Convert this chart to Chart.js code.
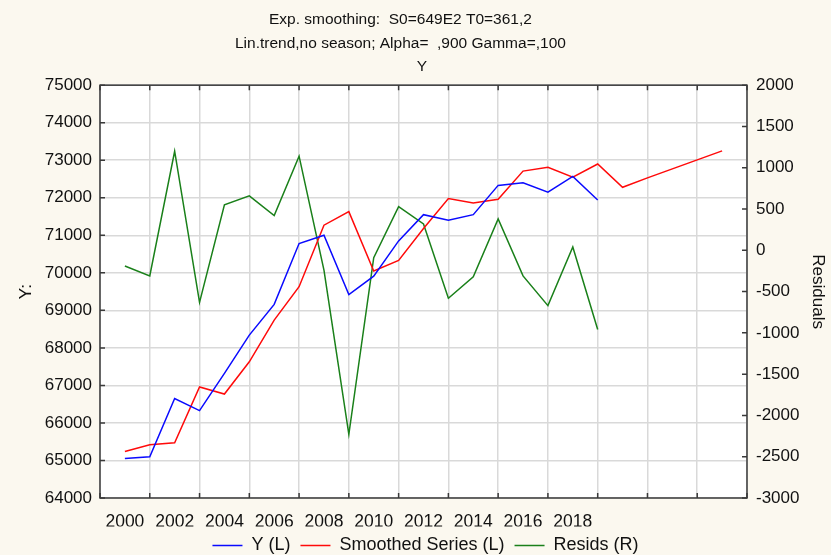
<!DOCTYPE html>
<html>
<head>
<meta charset="utf-8">
<script src="https://cdn.jsdelivr.net/npm/chart.js@4"></script>
<style>
 html,body{margin:0;padding:0;background:#fbf8ef;}
 #wrap{width:831px;height:555px;}
</style>
</head>
<body>
<div id="wrap"><canvas id="expChart" width="831" height="555"></canvas></div>
<script>
// data
const years = [2000,2001,2002,2003,2004,2005,2006,2007,2008,2009,2010,2011,2012,2013,2014,2015,2016,2017,2018,2019];
const forecastYears = [2000,2001,2002,2003,2004,2005,2006,2007,2008,2009,2010,2011,2012,2013,2014,2015,2016,2017,2018,2019,2020,2021,2022,2023,2024];
const yValues = [65050,65100,66650,66330,67320,68340,69160,70780,71000,69420,69910,70850,71550,71400,71550,72330,72400,72150,72570,71940];
const smoothed = [65240,65420,65470,66960,66770,67630,68740,69630,71270,71630,70050,70330,71180,71980,71860,71960,72710,72810,72550,72900,72280,72530,72770,73010,73250];
const resids = [-190,-310,1200,-630,550,660,420,1140,-240,-2230,-90,530,320,-580,-320,380,-310,-670,40,-960];
const xTickLabels = [2000,2002,2004,2006,2008,2010,2012,2014,2016,2018];

const font = "'Liberation Sans', Arial, sans-serif";

function pts(xs, ys){
  return ys.map((v,i) => ({x: xs[i], y: v}));
}

// white plot area + dark frame + short inside tick marks
const plotFrame = {
  id: 'plotFrame',
  afterLayout(chart){
    // legend sits a bit right of the canvas centre in the original
    chart.legend.left += 10;
    chart.legend.right += 10;
  },
  beforeDraw(chart){
    const a = chart.chartArea, c = chart.ctx;
    c.save();
    c.fillStyle = '#fbf8ef';
    c.fillRect(0,0,chart.width,chart.height);
    c.fillStyle = '#ffffff';
    c.fillRect(a.left,a.top,a.right-a.left,a.bottom-a.top);
    c.restore();
  },
  afterDraw(chart){
    const a = chart.chartArea, c = chart.ctx;
    c.save();
    c.strokeStyle = '#3a3a3a';
    c.lineWidth = 1.5;
    c.beginPath();
    chart.scales.y.ticks.forEach(t => {
      const p = chart.scales.y.getPixelForValue(t.value);
      c.moveTo(a.left,p); c.lineTo(a.left+5,p);
    });
    chart.scales.y1.ticks.forEach(t => {
      const p = chart.scales.y1.getPixelForValue(t.value);
      c.moveTo(a.right,p); c.lineTo(a.right-5,p);
    });
    chart.scales.x.ticks.forEach(t => {
      if (Math.abs(t.value % 2) !== 1) return;
      const p = chart.scales.x.getPixelForValue(t.value);
      c.moveTo(p,a.bottom); c.lineTo(p,a.bottom-5);
      c.moveTo(p,a.top); c.lineTo(p,a.top+5);
    });
    c.stroke();
    c.strokeRect(a.left,a.top,a.right-a.left,a.bottom-a.top);
    c.restore();
  }
};

const ctx = document.getElementById('expChart');

new Chart(ctx, {
  type: 'line',
  data: {
    datasets: [{
      label: 'Y (L)',
      data: pts(years, yValues),
      borderColor: '#0a0aff',
      borderWidth: 1.5,
      pointRadius: 0,
      pointStyle: 'line',
      yAxisID: 'y',
      fill: false
    },{
      label: 'Smoothed Series (L)',
      data: pts(forecastYears, smoothed),
      borderColor: '#ff0a0a',
      borderWidth: 1.5,
      pointRadius: 0,
      pointStyle: 'line',
      yAxisID: 'y',
      fill: false
    },{
      label: 'Resids (R)',
      data: pts(years, resids),
      borderColor: '#1a801a',
      borderWidth: 1.5,
      pointRadius: 0,
      pointStyle: 'line',
      yAxisID: 'y1',
      fill: false
    }]
  },
  options: {
    responsive: false,
    animation: false,
    layout: {padding: 0},
    plugins: {
      title: {
        display: true,
        // trailing / leading blanks keep the original's off-centre lines
        text: ['Exp. smoothing:  S0=649E2 T0=361,2       ', 'Lin.trend,no season; Alpha=  ,900 Gamma=,100       ', '   Y'],
        color: '#111',
        font: {family: font, size: 15.5, weight: 'normal', lineHeight: 1.52},
        padding: {top: 8, bottom: 6.5}
      },
      legend: {
        position: 'bottom',
        maxHeight: 28.5,
        labels: {
          usePointStyle: true,
          pointStyleWidth: 30,
          color: '#111',
          font: {family: font, size: 18},
          padding: 10
        }
      },
      tooltip: {enabled: false}
    },
    scales: {
      x: {
        type: 'linear',
        min: 1999,
        max: 2025,
        afterFit(s){ s.height = 28.5; },
        border: {display: false},
        grid: {
          drawTicks: false,
          lineWidth: 1.5,
          color: c => (Math.abs(c.tick.value % 2) === 1 ? '#d9d9d9' : 'rgba(0,0,0,0)')
        },
        ticks: {
          stepSize: 1,
          autoSkip: false,
          maxRotation: 0,
          padding: 14,
          color: '#111',
          font: {family: font, size: 17.5},
          callback: v => (xTickLabels.includes(v) ? String(v) : '')
        }
      },
      y: {
        position: 'left',
        min: 64000,
        max: 75000,
        afterFit(s){ s.width = 100; },
        border: {display: false},
        grid: {drawTicks: false, lineWidth: 1.5, color: '#d9d9d9'},
        ticks: {
          stepSize: 1000,
          padding: 8,
          color: '#111',
          font: {family: font, size: 17},
          callback: v => String(v)
        },
        title: {
          display: true,
          text: 'Y:',
          color: '#111',
          font: {family: font, size: 17},
          padding: {top: 16, bottom: 0}
        }
      },
      y1: {
        position: 'right',
        min: -3000,
        max: 2000,
        afterFit(s){ s.width = 84; },
        border: {display: false},
        grid: {drawOnChartArea: false, drawTicks: false},
        ticks: {
          stepSize: 500,
          padding: 9,
          color: '#111',
          font: {family: font, size: 17},
          callback: v => String(v)
        },
        title: {
          display: true,
          text: 'Residuals',
          color: '#111',
          font: {family: font, size: 17},
          padding: {top: 3, bottom: 0}
        }
      }
    }
  },
  plugins: [plotFrame]
});
</script>
</body>
</html>
